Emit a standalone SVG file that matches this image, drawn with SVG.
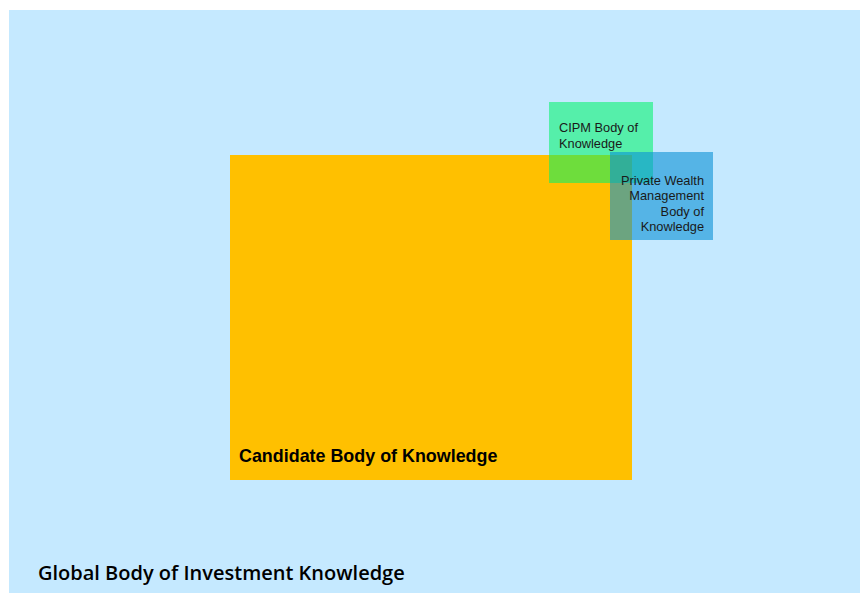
<svg xmlns="http://www.w3.org/2000/svg" width="860" height="593" viewBox="0 0 860 593">
<style>
.small{font-family:"Liberation Sans",Arial,sans-serif;font-size:12.8px;fill:#1a1a1a}
.cand{font-family:"Liberation Sans",Arial,sans-serif;font-size:17.9px;font-weight:bold;fill:#000}
.glob{font-family:"Open Sans","Liberation Sans",sans-serif;font-size:20px;font-weight:600;fill:#000}
</style>
<rect x="0" y="0" width="860" height="593" fill="#ffffff"/>
<g id="global">
<rect x="9" y="10" width="851" height="583" fill="#c5e9ff"/>
<text class="glob" x="38" y="580">Global Body of Investment Knowledge</text>
</g>
<g id="candidate">
<rect x="230" y="155" width="402" height="325" fill="#ffc000"/>
<text class="cand" x="239" y="462">Candidate Body of Knowledge</text>
</g>
<g id="cipm">
<rect x="549" y="102" width="104" height="81" fill="rgb(0,242,105)" fill-opacity="0.57"/>
<text class="small" x="559" y="132">CIPM Body of</text>
<text class="small" x="559" y="148">Knowledge</text>
</g>
<g id="pwm">
<rect x="610" y="152" width="103" height="88" fill="rgb(10,145,213)" fill-opacity="0.6"/>
<text class="small" x="704" y="185" text-anchor="end">Private Wealth</text>
<text class="small" x="704" y="200" text-anchor="end">Management</text>
<text class="small" x="704" y="216" text-anchor="end">Body of</text>
<text class="small" x="704" y="231" text-anchor="end">Knowledge</text>
</g>
<g id="connectors"/>
</svg>
